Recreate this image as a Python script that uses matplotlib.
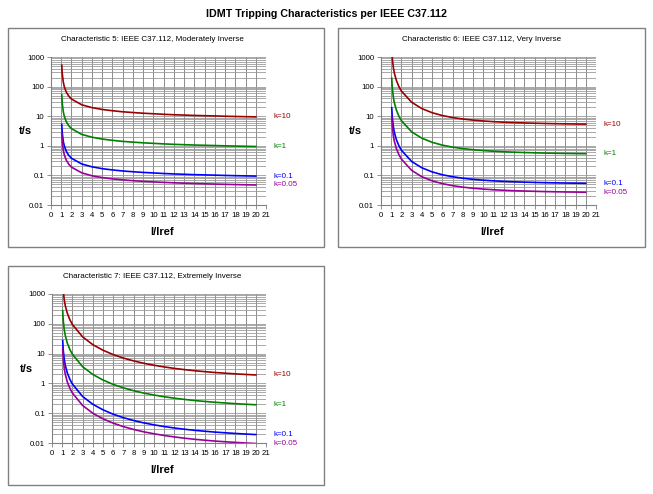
import numpy as np
import matplotlib
matplotlib.use("Agg")
import matplotlib.pyplot as plt
from matplotlib.patches import Rectangle
from matplotlib.ticker import LogLocator, FixedLocator, NullFormatter

plt.rcParams['font.family'] = ['Liberation Sans', 'DejaVu Sans']

# multiples of the reference current I/Iref
x = [1.05, 1.1, 1.2, 1.3, 1.5, 1.75, 2, 3, 4, 5, 6, 7, 8, 9, 10,
     11, 12, 13, 14, 15, 16, 17, 18, 19, 20]

k_labels = ["k=10", "k=1", "k=0.1", "k=0.05"]
colors = ["#990000", "#008000", "#0000ff", "#990099"]

# Characteristic 5, moderately inverse
mod_k10 = [529, 271, 142, 99.0, 64.4, 46.9, 38.0, 24.3, 19.5, 16.9, 15.3, 14.1, 13.3,
           12.6, 12.1, 11.6, 11.2, 10.9, 10.6, 10.4, 10.2, 9.97, 9.79, 9.63, 9.47]
mod_k1 = [52.9, 27.1, 14.2, 9.90, 6.44, 4.69, 3.80, 2.43, 1.95, 1.69, 1.53, 1.41, 1.33,
          1.26, 1.21, 1.16, 1.12, 1.09, 1.06, 1.04, 1.02, 0.997, 0.979, 0.963, 0.947]
mod_k01 = [5.29, 2.71, 1.42, 0.990, 0.644, 0.469, 0.380, 0.243, 0.195, 0.169, 0.153, 0.141,
           0.133, 0.126, 0.121, 0.116, 0.112, 0.109, 0.106, 0.104, 0.102, 0.0997, 0.0979,
           0.0963, 0.0947]
mod_k005 = [2.65, 1.36, 0.711, 0.495, 0.322, 0.235, 0.190, 0.122, 0.0973, 0.0844, 0.0763,
            0.0706, 0.0664, 0.0630, 0.0604, 0.0581, 0.0562, 0.0546, 0.0532, 0.0520, 0.0509,
            0.0499, 0.0490, 0.0482, 0.0474]

# Characteristic 6, very inverse
very_k10 = [1918, 939, 451, 289, 162, 100, 70.3, 29.4, 18.0, 13.1, 10.5, 9.00, 8.02, 7.36,
            6.89, 6.54, 6.28, 6.08, 5.92, 5.79, 5.68, 5.59, 5.52, 5.45, 5.40]
very_k1 = [192, 93.9, 45.1, 28.9, 16.2, 10.0, 7.03, 2.94, 1.80, 1.31, 1.05, 0.900, 0.802,
           0.736, 0.689, 0.654, 0.628, 0.608, 0.592, 0.579, 0.568, 0.559, 0.552, 0.545, 0.540]
very_k01 = [19.2, 9.39, 4.51, 2.89, 1.62, 1.00, 0.703, 0.294, 0.180, 0.131, 0.105, 0.0900,
            0.0802, 0.0736, 0.0689, 0.0654, 0.0628, 0.0608, 0.0592, 0.0579, 0.0568, 0.0559,
            0.0552, 0.0545, 0.0540]
very_k005 = [9.59, 4.69, 2.25, 1.45, 0.809, 0.500, 0.351, 0.147, 0.0899, 0.0654, 0.0526,
             0.0450, 0.0401, 0.0368, 0.0345, 0.0327, 0.0314, 0.0304, 0.0296, 0.0290, 0.0284,
             0.0280, 0.0276, 0.0273, 0.0270]

# Characteristic 7, extremely inverse
ext_k10 = [2752, 1344, 642, 410, 227, 138, 95.2, 36.5, 20.0, 13.0, 9.27, 7.09, 5.69, 4.74,
           4.07, 3.57, 3.19, 2.90, 2.66, 2.48, 2.32, 2.20, 2.09, 2.00, 1.92]
ext_k1 = [275, 134, 64.2, 41.0, 22.7, 13.8, 9.52, 3.65, 2.00, 1.30, 0.927, 0.709, 0.569,
          0.474, 0.407, 0.357, 0.319, 0.290, 0.266, 0.248, 0.232, 0.220, 0.209, 0.200, 0.192]
ext_k01 = [27.5, 13.4, 6.42, 4.10, 2.27, 1.38, 0.952, 0.365, 0.200, 0.130, 0.0927, 0.0709,
           0.0569, 0.0474, 0.0407, 0.0357, 0.0319, 0.0290, 0.0266, 0.0248, 0.0232, 0.0220,
           0.0209, 0.0200, 0.0192]
ext_k005 = [13.8, 6.72, 3.21, 2.05, 1.13, 0.690, 0.476, 0.182, 0.100, 0.0649, 0.0464,
            0.0355, 0.0285, 0.0237, 0.0204, 0.0179, 0.0160, 0.0145, 0.0133, 0.0124, 0.0116,
            0.0110, 0.0105, 0.0100, 0.0096]

panels = [
    ("Characteristic 5: IEEE C37.112, Moderately Inverse",
     [mod_k10, mod_k1, mod_k01, mod_k005]),
    ("Characteristic 6: IEEE C37.112, Very Inverse",
     [very_k10, very_k1, very_k01, very_k005]),
    ("Characteristic 7: IEEE C37.112, Extremely Inverse",
     [ext_k10, ext_k1, ext_k01, ext_k005]),
]

W, H = 653, 494
fig = plt.figure(figsize=(W / 100, H / 100), dpi=100)

def fx(px):
    return px / W

def fy(py):
    return 1 - py / H

# (box left, top, right, bottom), (axes left, top, right, bottom) in pixels
layout = [
    ((8, 28, 324, 247), (51, 57, 266, 205)),
    ((338, 28, 645, 247), (381, 57, 596, 205)),
    ((8, 266, 324, 485), (52, 294, 266, 443)),
]

fig.text(0.5, fy(14), "IDMT Tripping Characteristics per IEEE C37.112",
         ha="center", va="center", fontsize=7.7, fontweight="bold")

for (title, series), (box, ab) in zip(panels, layout):
    bl, bt, br, bb = box
    fig.patches.append(Rectangle((fx(bl), fy(bb)), fx(br - bl), (bb - bt) / H,
                                 transform=fig.transFigure, fill=False,
                                 edgecolor="#808080", lw=1.0))
    al, at, ar, abt = ab
    ax = fig.add_axes([fx(al), fy(abt), fx(ar - al), (abt - at) / H])
    ax.set_yscale("log")
    ax.set_xlim(0, 21)
    ax.set_ylim(0.01, 1000)
    ax.xaxis.set_major_locator(FixedLocator(range(0, 22)))
    ax.yaxis.set_major_locator(FixedLocator([0.01, 0.1, 1, 10, 100, 1000]))
    ax.set_yticklabels(["0.01", "0.1", "1", "10", "100", "1000"])
    ax.yaxis.set_minor_locator(LogLocator(base=10, subs=np.arange(2, 10)))
    ax.yaxis.set_minor_formatter(NullFormatter())
    ax.tick_params(axis="both", which="major", labelsize=5.6, length=3,
                   width=0.6, color="#808080", pad=2)
    ax.tick_params(axis="y", which="minor", length=0)
    ax.grid(True, axis="x", color="#7a7a7a", lw=0.6)
    ax.grid(True, axis="y", which="both", color="#9a9a9a", lw=0.6)
    ax.set_axisbelow(True)
    for s in ["top", "right"]:
        ax.spines[s].set_visible(False)
    for s in ["left", "bottom"]:
        ax.spines[s].set_color("#808080")
        ax.spines[s].set_linewidth(0.8)

    for y, c, lab in zip(series, colors, k_labels):
        ax.plot(x, y, color=c, lw=1.2)
        ax.text(21.7, y[-1], lab, color=c, fontsize=5.8, va="center",
                ha="left", clip_on=False)

    ax.text(-0.12, 0.5, "t/s", transform=ax.transAxes, fontsize=8,
            fontweight="bold", ha="center", va="center")
    ax.text(0.515, -0.18, "I/Iref", transform=ax.transAxes, fontsize=8,
            fontweight="bold", ha="center", va="center")
    ax.text(0.47, 1.115, title, transform=ax.transAxes, fontsize=5.8,
            ha="center", va="center")

fig.savefig("out.png", dpi=100)
